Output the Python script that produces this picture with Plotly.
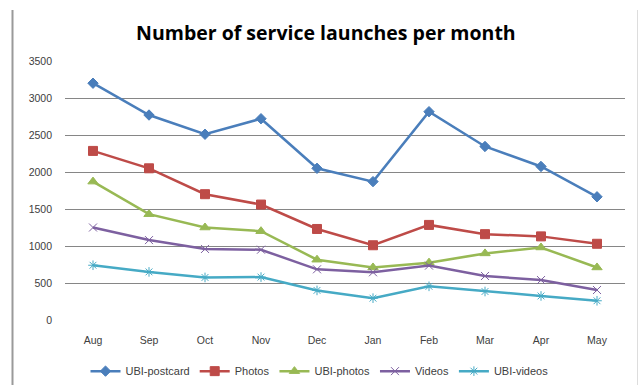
import plotly.graph_objects as go

months = ["Aug", "Sep", "Oct", "Nov", "Dec", "Jan", "Feb", "Mar", "Apr", "May"]
ubi_postcard = [3200, 2770, 2510, 2720, 2050, 1870, 2815, 2345, 2075, 1665]
photos = [2285, 2050, 1700, 1560, 1230, 1010, 1285, 1160, 1130, 1030]
ubi_photos = [1870, 1430, 1250, 1200, 815, 710, 775, 900, 980, 710]
videos = [1250, 1080, 960, 950, 685, 645, 735, 595, 540, 405]
ubi_videos = [740, 650, 575, 580, 400, 295, 455, 385, 325, 260]
y_ticks = [0, 500, 1000, 1500, 2000, 2500, 3000, 3500]

series = [
    ("UBI-postcard", ubi_postcard, "#4A7EBB", "diamond", 8),
    ("Photos", photos, "#BE4B48", "square", 9),
    ("UBI-photos", ubi_photos, "#98B954", "triangle-up", 9),
    ("Videos", videos, "#7D60A0", "x-thin-open", 8),
    ("UBI-videos", ubi_videos, "#46AAC5", "asterisk-open", 8),
]

fig = go.Figure()
for name, vals, color, sym, size in series:
    fig.add_trace(go.Scatter(
        x=months, y=vals, name=name, mode="lines+markers",
        line=dict(color=color, width=2.5),
        marker=dict(symbol=sym, size=size, color=color,
                    line=dict(color=color, width=1)),
    ))

fig.update_layout(
    width=639, height=385,
    margin=dict(l=65, r=14, t=61, b=65),
    paper_bgcolor="white", plot_bgcolor="white",
    font=dict(family="Liberation Sans, Arial, sans-serif", size=10, color="#404040"),
    title=dict(text="<b>Number of service launches per month</b>",
               x=0.51, xanchor="center", y=0.915, yanchor="middle",
               font=dict(family="Open Sans, sans-serif", size=19.5, color="black")),
    xaxis=dict(type="category", range=[-0.5, 9.5], showgrid=False,
               showline=False, ticks="", zeroline=False,
               ticklabelstandoff=12,
               tickfont=dict(size=10.5, color="#404040")),
    yaxis=dict(range=[0, 3500], tickvals=y_ticks, showgrid=True,
               gridcolor="#868686", gridwidth=1, zeroline=False,
               showline=False, ticks="", ticklabelstandoff=12,
               tickfont=dict(size=10.5, color="#404040")),
    legend=dict(orientation="h", xref="container", yref="container",
                x=0.5, xanchor="center", y=0.036, yanchor="middle",
                font=dict(size=11, color="#404040"),
                itemwidth=30, tracegroupgap=0),
    showlegend=True,
)

# outer chart-area border lines
fig.add_shape(type="line", xref="paper", yref="paper",
              x0=(12.5 - 65) / 560, x1=(12.5 - 65) / 560,
              y0=(320 - 385) / 259, y1=(320 - 10) / 259,
              line=dict(color="#9a9a9a", width=2))
fig.add_shape(type="line", xref="paper", yref="paper",
              x0=(637.5 - 65) / 560, x1=(637.5 - 65) / 560,
              y0=(320 - 385) / 259, y1=(320 - 10) / 259,
              line=dict(color="#dddddd", width=1))

fig.write_html("out.html")
